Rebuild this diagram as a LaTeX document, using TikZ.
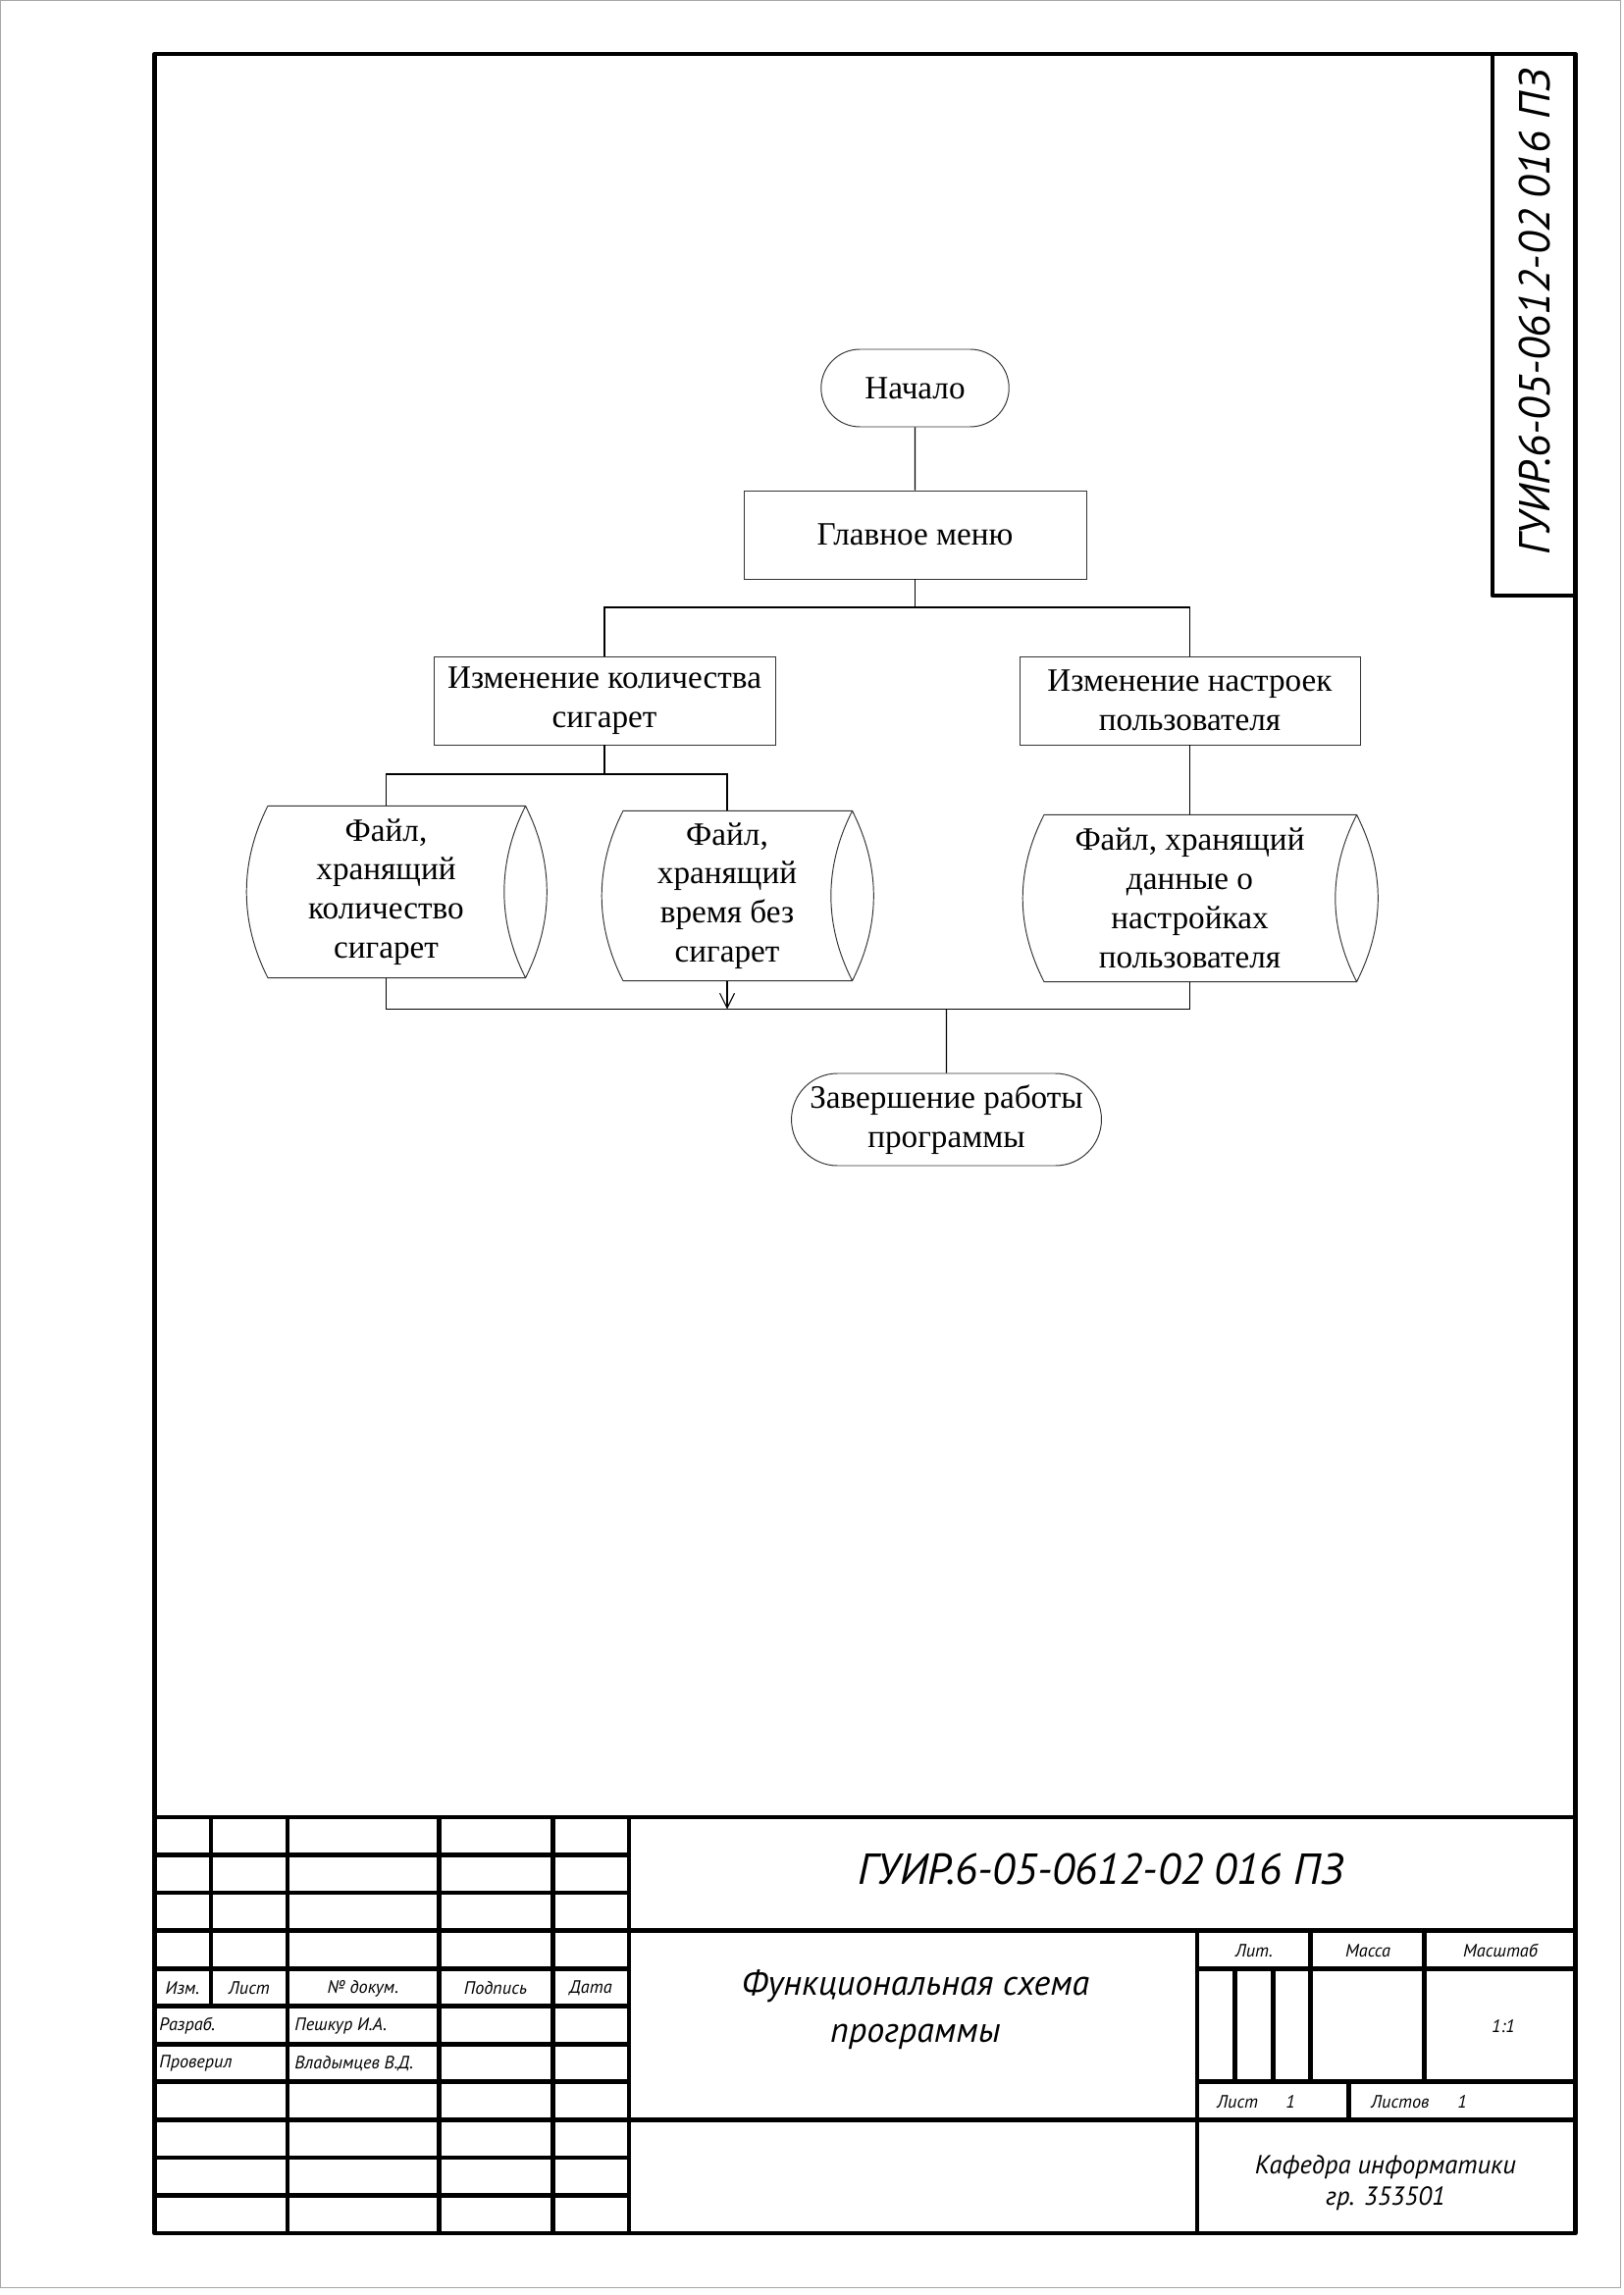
\documentclass[tikz,border=0pt]{standalone}
\usepackage{fontspec}
\setmainfont{Liberation Serif}
\newfontfamily\gost{PT Sans}
\usetikzlibrary{shapes.misc,arrows.meta}

\newdimen\px \px=0.127mm
% file symbol drawn round a node that has no border of its own
\newcommand{\drum}[1]{%
  \draw[shapeline] ([xshift=21.5\px]#1.north west) -- (#1.north east)
    .. controls +(29,57) and +(29,-57) .. (#1.south east)
    -- ([xshift=21.5\px]#1.south west)
    .. controls +(-29,-57) and +(-29,57) .. ([xshift=21.5\px]#1.north west)
    (#1.north east) .. controls +(-29,57) and +(-29,-57) .. (#1.south east);}

\begin{document}
\begin{tikzpicture}[x=0.127mm, y=-0.127mm, line width=0.4pt]
  \tikzstyle{shapeline} = [draw=black!80, line width=0.35pt]
  \tikzstyle{txt} = [font=\fontsize{12}{14.4}\selectfont, align=center, inner sep=1pt]
  \tikzstyle{block} = [txt, shapeline, rectangle]
  \tikzstyle{term} = [txt, shapeline, rounded rectangle]
  \tikzstyle{file} = [txt, draw=none]
  \tikzstyle{frame} = [line width=0.6mm, line join=round]
  \tikzstyle{small} = [font=\gost\itshape\fontsize{6.6}{8}\selectfont, inner sep=1pt]
  \tikzstyle{big} = [font=\gost\itshape\fontsize{16}{19}\selectfont, inner sep=1pt]
  \tikzstyle{mid} = [font=\gost\itshape\fontsize{13}{17.5}\selectfont, align=center, inner sep=1pt]
  \tikzstyle{dept} = [font=\gost\itshape\fontsize{9.6}{11.5}\selectfont, align=center, inner sep=1pt]
  \useasboundingbox (0,0) rectangle (1654,2339);
  \draw[gray!70, line width=1\px] (0.5,0.5) rectangle (1651,2331);

  % flowchart
  \node (start) [term, minimum width=197\px, minimum height=79\px] at (932.5,395.5) {Начало};
  \node (menu) [block, minimum width=349\px, minimum height=90\px] at (932.5,545) {Главное меню};
  \node (count) [block, minimum width=348\px, minimum height=90\px] at (616,714) {Изменение количества\\сигарет};
  \node (settings) [block, minimum width=347\px, minimum height=90\px] at (1212.5,714) {Изменение настроек\\пользователя};
  \node (countfile) [file, minimum width=283\px, minimum height=174\px] at (393.5,909) {Файл,\\хранящий\\количество\\сигарет};
  \node (timefile) [file, minimum width=254\px, minimum height=172\px] at (741,913) {Файл,\\хранящий\\время без\\сигарет};
  \node (setfile) [file, minimum width=339\px, minimum height=169\px] at (1212.5,915.5) {Файл, хранящий\\данные о\\настройках\\пользователя};
  \node (finish) [term, minimum width=315\px, minimum height=94\px] at (964.5,1141) {Завершение работы\\программы};
  \drum{countfile}
  \drum{timefile}
  \drum{setfile}

  \coordinate (bus1) at (932.5,619);
  \coordinate (bus2) at (616,789);
  \coordinate (bus3) at (964.5,1028.5);
  \draw (start) -- (menu);
  \draw (menu) -- (bus1);
  \draw (count.north) |- (bus1) -| (settings.north);
  \draw (count) -- (bus2);
  \draw (countfile.north) |- (bus2) -| (timefile.north);
  \draw (settings) -- (setfile);
  \draw (countfile.south) |- (bus3) -| (setfile.south);
  \draw[-{Straight Barb[length=1.9mm,width=1.9mm]}] (timefile.south) -- (timefile.south |- bus3);
  \draw (bus3) -- (finish);

  % frame and stamp
  \draw[frame] (157.5,55) rectangle (1605.5,2276);
  \draw[frame] (1521,55) -- (1521,607) -- (1605.5,607);
  \node (stampcode) [big, rotate=90] at (1564,318) {ГУИР.6-05-0612-02 016 ПЗ};

  % title block
  \draw[frame] (157.5,1852) -- (1605.5,1852);
  \foreach \y in {1890.5,1929.1,1967.6,2006.2,2044.7,2083.3,2121.8,2160.4,2199,2237.5}
    \draw[frame] (157.5,\y) -- (641,\y);
  \draw[frame] (215,1852) -- (215,2044.7);
  \foreach \x in {293,447.3,563.3,641}
    \draw[frame] (\x,1852) -- (\x,2276);
  \draw[frame] (641,1967.6) -- (1605.5,1967.6);
  \draw[frame] (641,2160.4) -- (1605.5,2160.4);
  \draw[frame] (1220,1967.6) -- (1220,2276);
  \draw[frame] (1220,2006.2) -- (1605.5,2006.2);
  \draw[frame] (1220,2121.8) -- (1605.5,2121.8);
  \foreach \x in {1335.7,1451.7}
    \draw[frame] (\x,1967.6) -- (\x,2121.8);
  \foreach \x in {1258.3,1297.7}
    \draw[frame] (\x,2006.2) -- (\x,2121.8);
  \draw[frame] (1374.3,2121.8) -- (1374.3,2160.4);

  \node (izm) [small] at (186,2026) {Изм.};
  \node (list) [small] at (254,2026) {Лист};
  \node (ndoc) [small] at (370,2027) {№ докум.};
  \node (podp) [small] at (505,2026) {Подпись};
  \node (data) [small] at (602,2026) {Дата};
  \node (razrab) [small, anchor=west] at (159,2065) {Разраб.};
  \node (razrabname) [small, anchor=west] at (297,2065) {Пешкур И.А.};
  \node (prov) [small, anchor=west] at (159,2103) {Проверил};
  \node (provname) [small, anchor=west] at (297,2103) {Владымцев В.Д.};
  \node (code) [big] at (1122,1905) {ГУИР.6-05-0612-02 016 ПЗ};
  \node (title) [mid] at (933,2048) {Функциональная схема\\программы};
  \node (lit) [small] at (1278,1988) {Лит.};
  \node (massa) [small] at (1394,1988) {Масса};
  \node (masshtab) [small] at (1529,1988) {Масштаб};
  \node (scale) [small] at (1532,2065) {1:1};
  \node (sheet) [small, anchor=west] at (1237,2142) {Лист};
  \node (sheetno) [small] at (1315,2142) {1};
  \node (sheets) [small, anchor=west] at (1394,2142) {Листов};
  \node (sheetsno) [small] at (1490,2142) {1};
  \node (dept) [dept] at (1412,2225) {Кафедра информатики\\гр. 353501};
\end{tikzpicture}
\end{document}
